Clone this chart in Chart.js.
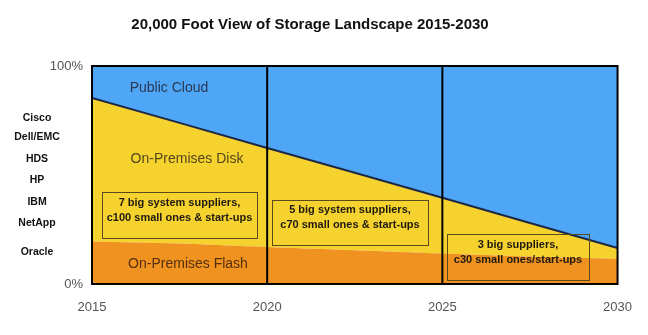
<!DOCTYPE html>
<html lang="en">
<head>
    <meta charset="UTF-8">
    <title>20,000 Foot View of Storage Landscape 2015-2030</title>
    <script src="https://cdn.jsdelivr.net/npm/chart.js"></script>
    <style>
        body { margin: 0; background: #fff; }
        #wrap { width: 648px; height: 335px; }
    </style>
</head>
<body>
    <div id="wrap"><canvas id="storageChart" width="648" height="335"></canvas></div>

    <script>
        // values (% of storage)
        const years = [2015, 2017.5, 2020, 2022.5, 2025, 2027.5, 2030];
        const flashShare = [19.5, 18.6, 17.0, 15.5, 14.0, 12.6, 11.5];
        const onPremTotal = [85.3, 73.9, 62.4, 51.0, 39.6, 28.0, 16.5];
        const cloudTop = [100, 100, 100, 100, 100, 100, 100];
        const yTicks = [0, 100];
        const vendors = ['Cisco', 'Dell/EMC', 'HDS', 'HP', 'IBM', 'NetApp', 'Oracle'];

        const FONT = '"Liberation Sans", Arial, Helvetica, sans-serif';

        function pts(vals) {
            return years.map((y, i) => ({ x: y, y: vals[i] }));
        }

        // titles, vendor list, area labels, boxes, frame
        const decor = {
            id: 'decor',
            afterDatasetsDraw(chart) {
                const ctx = chart.ctx;
                const a = chart.chartArea;
                const xs = chart.scales.x;
                ctx.save();

                // vertical lines at 2020 and 2025
                ctx.strokeStyle = '#000';
                ctx.lineWidth = 2;
                [2020, 2025].forEach(yr => {
                    const px = xs.getPixelForValue(yr);
                    ctx.beginPath();
                    ctx.moveTo(px, a.top);
                    ctx.lineTo(px, a.bottom);
                    ctx.stroke();
                });
                ctx.strokeRect(a.left, a.top, a.right - a.left, a.bottom - a.top);

                // area labels
                ctx.textAlign = 'center';
                ctx.textBaseline = 'middle';
                ctx.font = '14px ' + FONT;
                ctx.fillStyle = '#2a3853';
                ctx.fillText('Public Cloud', 169, 88);
                ctx.fillStyle = '#54461a';
                ctx.fillText('On-Premises Disk', 187, 159);
                ctx.fillStyle = '#55300e';
                ctx.fillText('On-Premises Flash', 188, 264);

                // supplier boxes
                const boxes = [
                    { x0: 102, y0: 192, x1: 257, y1: 238, lines: ['7 big system suppliers,', 'c100 small ones & start-ups'], ty: 203 },
                    { x0: 272, y0: 200, x1: 428, y1: 245, lines: ['5 big system suppliers,', 'c70 small ones & start-ups'], ty: 210 },
                    { x0: 447, y0: 234, x1: 589, y1: 280, lines: ['3 big suppliers,', 'c30 small ones/start-ups'], ty: 245 }
                ];
                ctx.lineWidth = 1;
                ctx.strokeStyle = '#5b4a1c';
                ctx.font = 'bold 11px ' + FONT;
                ctx.fillStyle = '#1e1a10';
                boxes.forEach(b => {
                    ctx.strokeRect(b.x0 + 0.5, b.y0 + 0.5, b.x1 - b.x0, b.y1 - b.y0);
                    const cx = (b.x0 + b.x1) / 2;
                    b.lines.forEach((t, i) => ctx.fillText(t, cx, b.ty + i * 14.5));
                });

                // vendor list on the left
                ctx.fillStyle = '#111';
                ctx.font = 'bold 10.5px ' + FONT;
                const vy = [118, 137, 159, 180, 202, 223, 252];
                vendors.forEach((v, i) => ctx.fillText(v, 37, vy[i]));

                // title
                ctx.font = 'bold 15px ' + FONT;
                ctx.fillText('20,000 Foot View of Storage Landscape 2015-2030', 310, 25);
                ctx.restore();
            }
        };

        new Chart(document.getElementById('storageChart'), {
            type: 'line',
            data: {
                datasets: [
                    {
                        label: 'On-Premises Flash',
                        data: pts(flashShare),
                        backgroundColor: '#f0921f',
                        borderWidth: 0,
                        pointRadius: 0,
                        tension: 0.3,
                        fill: 'origin'
                    },
                    {
                        label: 'On-Premises Disk',
                        data: pts(onPremTotal),
                        backgroundColor: '#f6d22f',
                        borderColor: '#1b2847',
                        borderWidth: 2,
                        pointRadius: 0,
                        fill: '-1'
                    },
                    {
                        label: 'Public Cloud',
                        data: pts(cloudTop),
                        backgroundColor: '#4fa6f6',
                        borderWidth: 0,
                        pointRadius: 0,
                        fill: '-1'
                    }
                ]
            },
            options: {
                responsive: false,
                animation: false,
                layout: { padding: { top: 66, right: 28, bottom: 0, left: 0 } },
                plugins: {
                    legend: { display: false },
                    tooltip: { enabled: false }
                },
                scales: {
                    x: {
                        type: 'linear',
                        min: 2015,
                        max: 2030,
                        grid: { display: false, drawTicks: false },
                        border: { display: false },
                        afterFit: s => { s.height = 51; },
                        ticks: {
                            stepSize: 5,
                            padding: 16,
                            color: '#555',
                            font: { family: FONT, size: 13 },
                            maxRotation: 0,
                            callback: v => String(v)
                        }
                    },
                    y: {
                        min: 0,
                        max: 100,
                        grid: { display: false, drawTicks: false },
                        border: { display: false },
                        afterFit: s => { s.width = 92; },
                        afterBuildTicks: s => { s.ticks = yTicks.map(v => ({ value: v })); },
                        ticks: {
                            padding: 9,
                            color: '#555',
                            font: { family: FONT, size: 13 },
                            callback: v => v + '%'
                        }
                    }
                }
            },
            plugins: [decor]
        });
    </script>
</body>
</html>
